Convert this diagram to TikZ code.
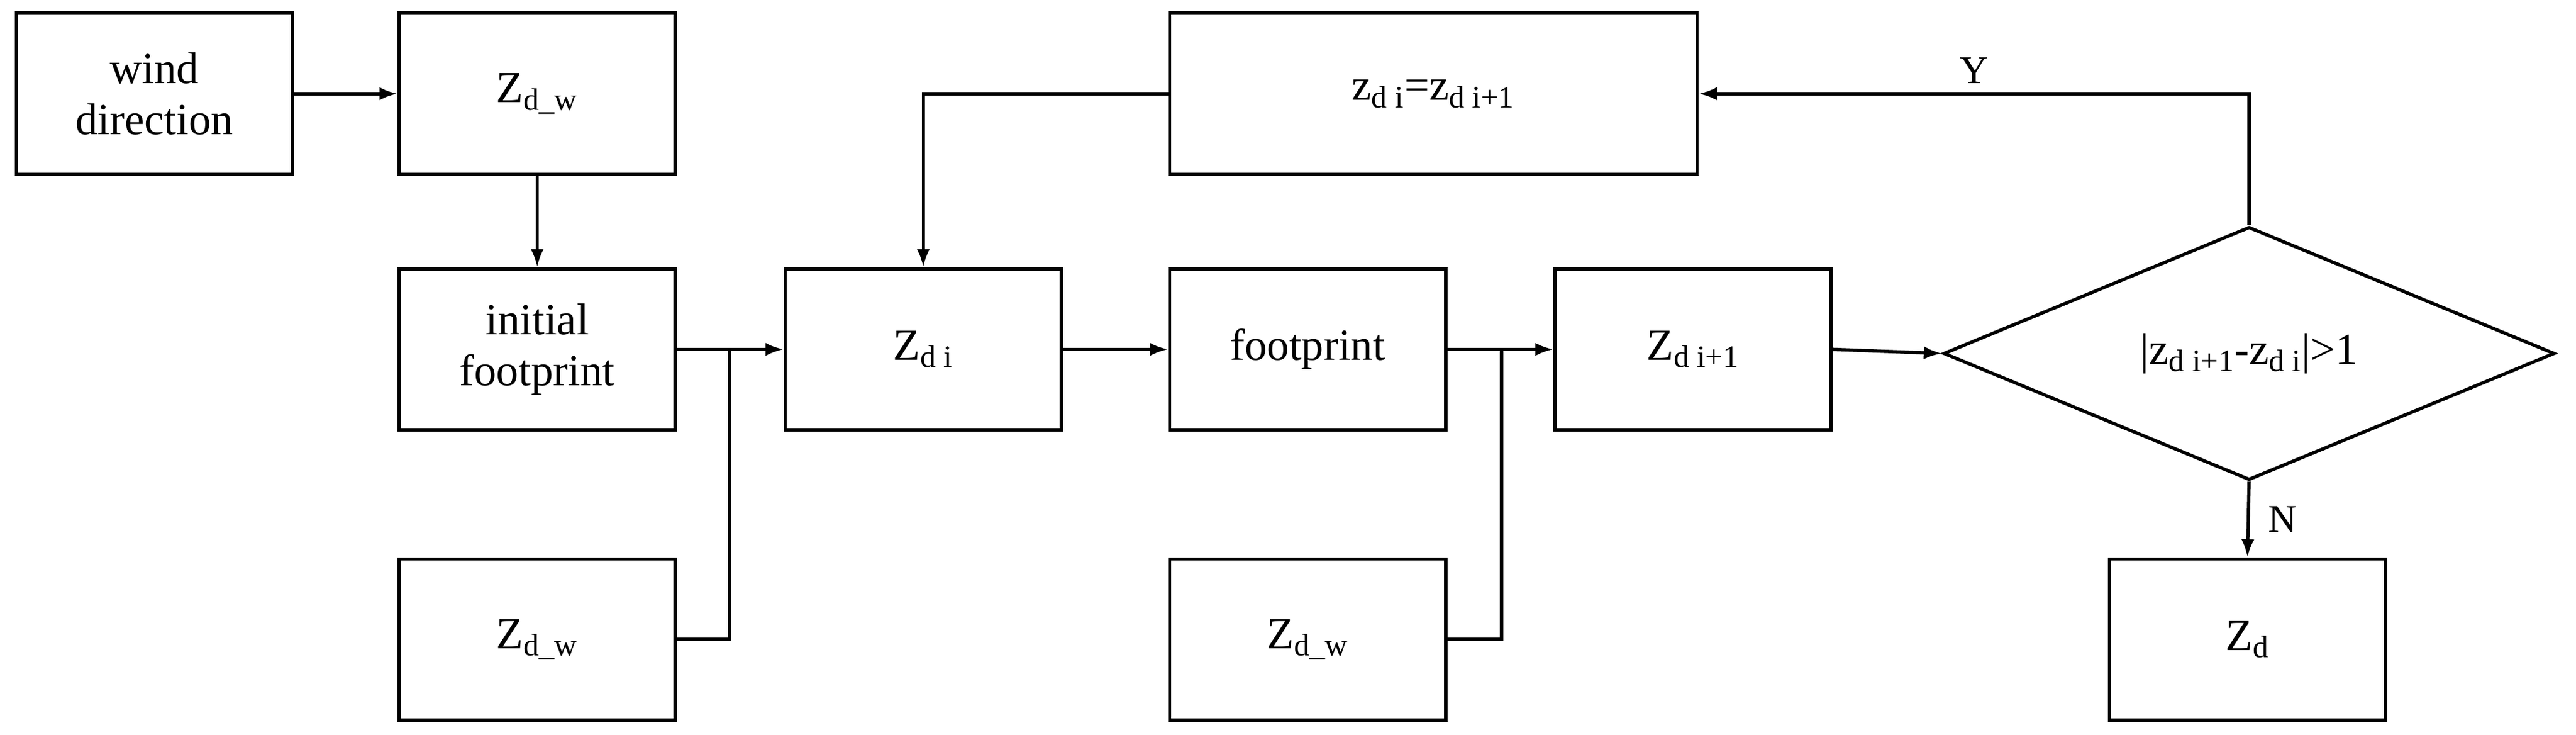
\documentclass[tikz,border=0pt]{standalone}
\usepackage{fontspec}
\setmainfont{Liberation Serif}
\usetikzlibrary{arrows.meta,shapes.geometric}
\begin{document}
\begin{tikzpicture}[x=1pt,y=-1pt,
  box/.style={draw,line width=2pt,minimum width=168pt,minimum height=98pt,align=center,font=\fontsize{27}{31}\selectfont,inner sep=0pt},
  arr/.style={line width=2pt,-{Latex[length=11pt,width=8pt]}},
  ln/.style={line width=2pt}]
\useasboundingbox (0,0) rectangle (1568,447);
\node[box] (wd) at (94,57) {wind\\direction};
\node[box] (zw1) at (327,57) {Z\textsubscript{d\_w}};
\node[box] (if) at (327,212.5) {initial\\footprint};
\node[box] (zw2) at (327,389) {Z\textsubscript{d\_w}};
\node[box] (zi) at (562,212.5) {Z\textsubscript{d i}};
\node[box,minimum width=321pt] (up) at (872.5,57) {z\textsubscript{d i}=z\textsubscript{d i+1}};
\node[box] (fp) at (796,212.5) {footprint};
\node[box] (zw3) at (796,389) {Z\textsubscript{d\_w}};
\node[box] (zn) at (1030.5,212.5) {Z\textsubscript{d i+1}};
\node[draw,line width=2pt,diamond,aspect=2.4,minimum width=372pt,minimum height=154pt,inner sep=0pt,font=\fontsize{27}{31}\selectfont] (dm) at (1369,215) {|z\textsubscript{d i+1}-z\textsubscript{d i}|>1};
\node[box] (zd) at (1368,389) {Z\textsubscript{d}};
\coordinate (j1) at (444,212.5);
\coordinate (j2) at (914,212.5);
\draw[arr] (wd) -- (zw1);
\draw[arr] (zw1) -- (if);
\draw[ln] (if.east) -- (j1);
\draw[ln] (zw2.east) -| (j1);
\draw[arr] (j1) -- (zi.west);
\draw[arr] (zi) -- (fp);
\draw[ln] (fp.east) -- (j2);
\draw[ln] (zw3.east) -| (j2);
\draw[arr] (j2) -- (zn.west);
\draw[arr] (zn.east) -- (dm.west);
\draw[arr] (dm.north) |- (up.east) node[pos=0.75,above=2pt,font=\fontsize{24}{28}\selectfont] {Y};
\draw[arr] (up.west) -| (zi.north);
\draw[arr] (dm.south) -- (zd.north) node[midway,right=8pt,font=\fontsize{24}{28}\selectfont] {N};
\end{tikzpicture}
\end{document}
